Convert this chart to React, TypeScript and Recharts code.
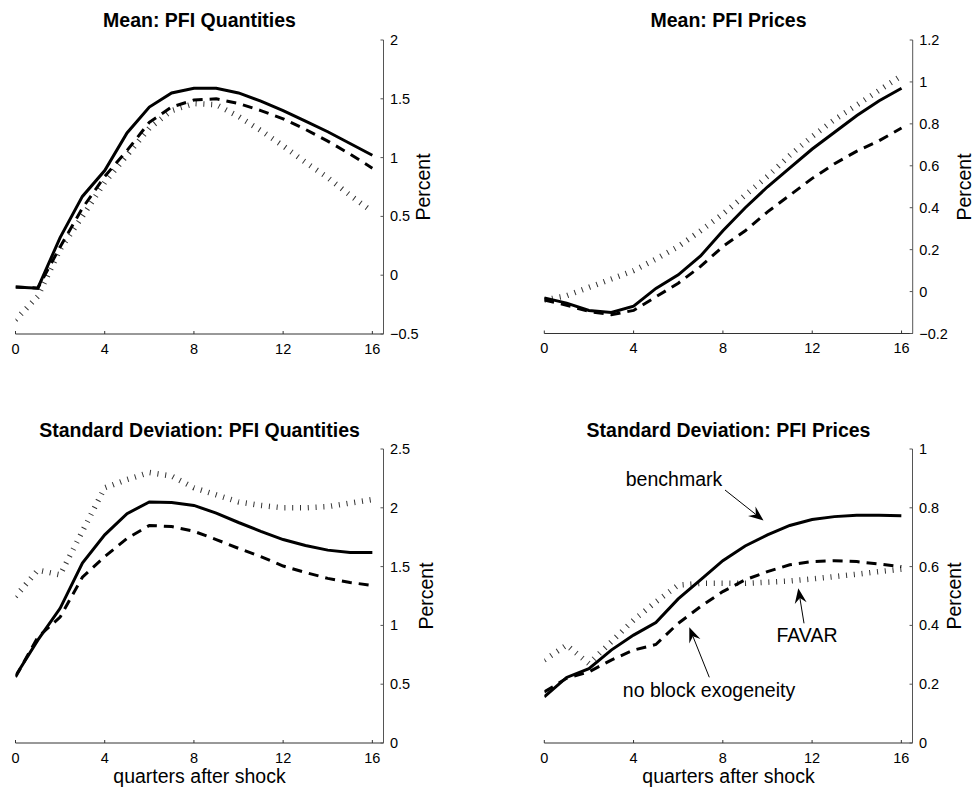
import { LineChart, Line, XAxis, YAxis } from 'recharts';

// impulse responses, quarters 0..16
const quarters = [0, 1, 2, 3, 4, 5, 6, 7, 8, 9, 10, 11, 12, 13, 14, 15, 16];

const meanQtyBenchmark = [-0.1, -0.11, 0.32, 0.67, 0.89, 1.21, 1.43, 1.55, 1.59, 1.59, 1.55, 1.48, 1.4, 1.31, 1.22, 1.12, 1.02];
const meanQtyNoBlock = [-0.1, -0.11, 0.24, 0.57, 0.84, 1.06, 1.3, 1.43, 1.49, 1.5, 1.46, 1.4, 1.33, 1.24, 1.14, 1.03, 0.91];
const meanQtyFavar = [-0.38, -0.18, 0.22, 0.5, 0.79, 1.02, 1.25, 1.4, 1.46, 1.45, 1.35, 1.23, 1.1, 0.96, 0.83, 0.68, 0.54];

const meanPriceBenchmark = [-0.03, -0.055, -0.09, -0.1, -0.07, 0.015, 0.08, 0.17, 0.29, 0.4, 0.5, 0.59, 0.68, 0.76, 0.84, 0.91, 0.97];
const meanPriceNoBlock = [-0.04, -0.065, -0.095, -0.11, -0.09, -0.025, 0.04, 0.12, 0.215, 0.29, 0.38, 0.46, 0.54, 0.61, 0.67, 0.72, 0.78];
const meanPriceFavar = [-0.04, -0.02, 0.02, 0.06, 0.1, 0.155, 0.215, 0.29, 0.37, 0.46, 0.55, 0.65, 0.74, 0.82, 0.89, 0.96, 1.03];

const sdQtyBenchmark = [0.57, 0.875, 1.145, 1.53, 1.77, 1.95, 2.05, 2.045, 2.02, 1.955, 1.875, 1.8, 1.73, 1.68, 1.64, 1.62, 1.62];
const sdQtyNoBlock = [0.56, 0.9, 1.07, 1.41, 1.585, 1.74, 1.85, 1.84, 1.8, 1.73, 1.655, 1.585, 1.505, 1.45, 1.4, 1.365, 1.34];
const sdQtyFavar = [1.245, 1.47, 1.43, 1.8, 2.17, 2.24, 2.3, 2.27, 2.17, 2.11, 2.05, 2.02, 2.0, 2.0, 2.01, 2.04, 2.07];

const sdPriceBenchmark = [0.157, 0.223, 0.253, 0.316, 0.367, 0.41, 0.49, 0.555, 0.62, 0.67, 0.708, 0.74, 0.76, 0.77, 0.775, 0.775, 0.773];
const sdPriceNoBlock = [0.174, 0.22, 0.242, 0.282, 0.316, 0.335, 0.407, 0.464, 0.515, 0.555, 0.583, 0.606, 0.617, 0.62, 0.617, 0.609, 0.6];
const sdPriceFavar = [0.282, 0.333, 0.27, 0.344, 0.418, 0.48, 0.537, 0.543, 0.543, 0.543, 0.547, 0.551, 0.558, 0.566, 0.574, 0.583, 0.591];

const xTicks = [0, 4, 8, 12, 16];
const meanQtyTicks = [-0.5, 0, 0.5, 1, 1.5, 2];
const meanPriceTicks = [-0.2, 0, 0.2, 0.4, 0.6, 0.8, 1, 1.2];
const sdQtyTicks = [0, 0.5, 1, 1.5, 2, 2.5];
const sdPriceTicks = [0, 0.2, 0.4, 0.6, 0.8, 1];

const FONT = '"Liberation Sans", Arial, Helvetica, sans-serif';
const BOX_W = 487;
const BOX_H = 394;

const fmt = (v: number) => (v < 0 ? '\u2212' + Math.abs(v) : String(v));

const YTick = (props: any) => {
  const { x, y, payload } = props;
  return (
    <g>
      <line x1={x - 3} x2={x} y1={y} y2={y} stroke="#555" strokeWidth={1} />
      <text x={x + 6.5} y={y} dy="0.35em" fontSize={14.5} fontFamily={FONT} fill="#000">
        {fmt(payload.value)}
      </text>
    </g>
  );
};

const XTick = (props: any) => {
  const { x, y, payload } = props;
  return (
    <g>
      <line x1={x} x2={x} y1={y - 3} y2={y} stroke="#333" strokeWidth={1} />
      <text x={x} y={y + 19.5} textAnchor="middle" fontSize={14.5} fontFamily={FONT} fill="#000">
        {payload.value}
      </text>
    </g>
  );
};

type PanelProps = {
  left: number;
  top: number;
  x0: number;
  axisX: number;
  plotTop: number;
  plotBottom: number;
  domain: [number, number];
  ticks: number[];
  benchmark: number[];
  noBlock: number[];
  favar: number[];
};

function Panel({ left, top, x0, axisX, plotTop, plotBottom, domain, ticks, benchmark, noBlock, favar }: PanelProps) {
  const data = quarters.map((q, i) => ({ q, benchmark: benchmark[i], noBlock: noBlock[i], favar: favar[i] }));
  return (
    <div style={{ position: 'absolute', left, top, width: BOX_W, height: BOX_H }}>
      <LineChart
        width={BOX_W}
        height={BOX_H}
        data={data}
        margin={{ left: x0 - left, top: plotTop - top, right: 0, bottom: 0 }}
      >
        <XAxis
          dataKey="q"
          type="number"
          domain={[0, 16.5]}
          ticks={xTicks}
          allowDataOverflow
          height={top + BOX_H - plotBottom}
          axisLine={{ stroke: '#333', strokeWidth: 1 }}
          tickLine={false}
          tickSize={0}
          tickMargin={0}
          tick={<XTick />}
        />
        <YAxis
          orientation="right"
          type="number"
          domain={domain}
          ticks={ticks}
          allowDataOverflow
          width={left + BOX_W - axisX}
          axisLine={{ stroke: '#555', strokeWidth: 1 }}
          tickLine={false}
          tickSize={0}
          tickMargin={0}
          tick={<YTick />}
        />
        {/* FAVAR: dotted, drawn as short ticks across the path */}
        <Line type="linear" dataKey="favar" stroke="#333" strokeWidth={5.5} strokeDasharray="1 6.8" dot={false} isAnimationActive={false} />
        <Line type="linear" dataKey="noBlock" stroke="#000" strokeWidth={3} strokeDasharray="10 7" dot={false} isAnimationActive={false} />
        <Line type="linear" dataKey="benchmark" stroke="#000" strokeWidth={3} dot={false} isAnimationActive={false} />
      </LineChart>
    </div>
  );
}

// annotation arrow with a notched filled head
function Arrow({ x1, y1, x2, y2 }: { x1: number; y1: number; x2: number; y2: number }) {
  const len = Math.hypot(x2 - x1, y2 - y1);
  const ux = (x2 - x1) / len;
  const uy = (y2 - y1) / len;
  const headLen = 15;
  const halfW = 6;
  const bx = x2 - ux * headLen;
  const by = y2 - uy * headLen;
  const nx = x2 - ux * headLen * 0.65;
  const ny = y2 - uy * headLen * 0.65;
  const pts = [
    [x2, y2],
    [bx - uy * halfW, by + ux * halfW],
    [nx, ny],
    [bx + uy * halfW, by - ux * halfW],
  ]
    .map((p) => p.join(','))
    .join(' ');
  return (
    <g>
      <line x1={x1} y1={y1} x2={nx} y2={ny} stroke="#000" strokeWidth={1} />
      <polygon points={pts} fill="#000" />
    </g>
  );
}

const titleStyle = { fontFamily: FONT, fontSize: 19.5, fontWeight: 700 } as const;
const labelStyle = { fontFamily: FONT, fontSize: 19.5 } as const;

export default function App() {
  return (
    <div style={{ position: 'absolute', left: 0, top: 0, width: 974, height: 789, background: '#fff', overflow: 'hidden' }}>
      <Panel left={0} top={0} x0={15.5} axisX={383.5} plotTop={40} plotBottom={334} domain={[-0.5, 2]} ticks={meanQtyTicks}
        benchmark={meanQtyBenchmark} noBlock={meanQtyNoBlock} favar={meanQtyFavar} />
      <Panel left={487} top={0} x0={544.3} axisX={912.7} plotTop={40} plotBottom={333.5} domain={[-0.2, 1.2]} ticks={meanPriceTicks}
        benchmark={meanPriceBenchmark} noBlock={meanPriceNoBlock} favar={meanPriceFavar} />
      <Panel left={0} top={394} x0={15.5} axisX={383.5} plotTop={449} plotBottom={743} domain={[0, 2.5]} ticks={sdQtyTicks}
        benchmark={sdQtyBenchmark} noBlock={sdQtyNoBlock} favar={sdQtyFavar} />
      <Panel left={487} top={394} x0={544.3} axisX={912.5} plotTop={449} plotBottom={743} domain={[0, 1]} ticks={sdPriceTicks}
        benchmark={sdPriceBenchmark} noBlock={sdPriceNoBlock} favar={sdPriceFavar} />

      <svg width={974} height={789} style={{ position: 'absolute', left: 0, top: 0, pointerEvents: 'none' }}>
        <text x={199.5} y={26.7} textAnchor="middle" style={titleStyle}>Mean: PFI Quantities</text>
        <text x={728.5} y={26.7} textAnchor="middle" style={titleStyle}>Mean: PFI Prices</text>
        <text x={199.5} y={437} textAnchor="middle" style={titleStyle}>Standard Deviation: PFI Quantities</text>
        <text x={728.5} y={437} textAnchor="middle" style={titleStyle}>Standard Deviation: PFI Prices</text>

        <text x={199.5} y={783} textAnchor="middle" style={labelStyle}>quarters after shock</text>
        <text x={728.5} y={783} textAnchor="middle" style={labelStyle}>quarters after shock</text>

        <text transform="translate(429.5,187) rotate(-90)" textAnchor="middle" style={labelStyle}>Percent</text>
        <text transform="translate(971,187) rotate(-90)" textAnchor="middle" style={labelStyle}>Percent</text>
        <text transform="translate(432.5,596) rotate(-90)" textAnchor="middle" style={labelStyle}>Percent</text>
        <text transform="translate(961,596) rotate(-90)" textAnchor="middle" style={labelStyle}>Percent</text>

        <text x={674} y={485.7} textAnchor="middle" style={labelStyle}>benchmark</text>
        <Arrow x1={725} y1={490} x2={763.5} y2={520.5} />
        <text x={807} y={641.7} textAnchor="middle" style={labelStyle}>FAVAR</text>
        <Arrow x1={804} y1={623.3} x2={798.3} y2={588.3} />
        <text x={709} y={697} textAnchor="middle" style={labelStyle}>no block exogeneity</text>
        <Arrow x1={709.3} y1={677.3} x2={689.3} y2={627.3} />
      </svg>
    </div>
  );
}
